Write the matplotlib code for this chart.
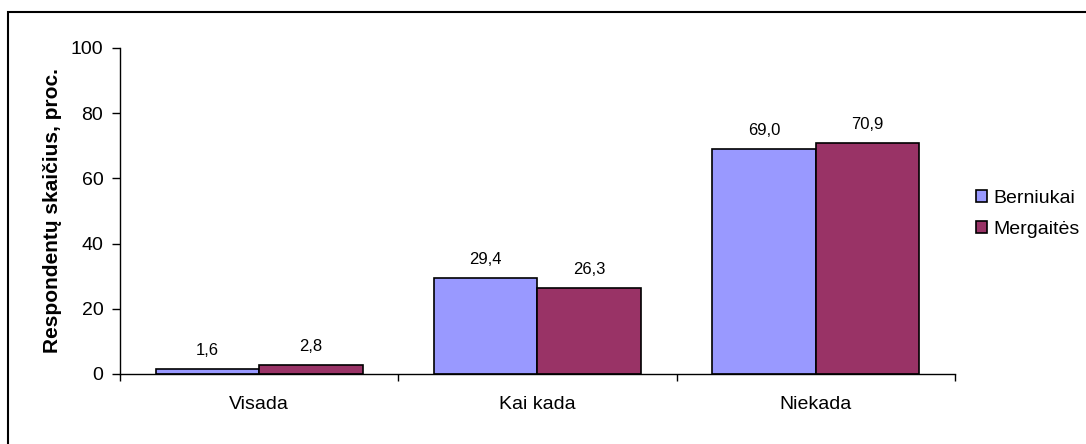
import numpy as np
import matplotlib
matplotlib.use("Agg")
import matplotlib.pyplot as plt
from matplotlib.patches import Rectangle

plt.rcParams['font.family'] = ['Liberation Sans', 'DejaVu Sans']

'''
Data:
'''
categories = ['Visada', 'Kai kada', 'Niekada']
berniukai = [1.6, 29.4, 69.0]
mergaites = [2.8, 26.3, 70.9]
series_names = ['Berniukai', 'Mergaitės']
colors = ['#9999FF', '#993366']

'''
Plot:
'''
fig = plt.figure(figsize=(10.86, 4.44), dpi=100)
# chart area border, runs off the right and bottom edges
fig.patches.append(Rectangle((8 / 1086, -0.1), 1.2, 1 - 12 / 444 + 0.1,
                             transform=fig.transFigure, fill=False,
                             edgecolor='black', linewidth=1.5))

ax = fig.add_axes([120 / 1086, 1 - 374 / 444, 835 / 1086, 326 / 444])

x = np.arange(len(categories))
w = 0.372
for vals, off, name, col in [(berniukai, -w / 2, series_names[0], colors[0]),
                             (mergaites, w / 2, series_names[1], colors[1])]:
    bars = ax.bar(x + off, vals, w, color=col, edgecolor='black',
                  linewidth=1.2, label=name)
    for b, v in zip(bars, vals):
        ax.annotate(f'{v:.1f}'.replace('.', ','),
                    (b.get_x() + b.get_width() / 2, v),
                    xytext=(0, 10), textcoords='offset points',
                    ha='center', va='baseline', fontsize=12)

ax.set_xlim(-0.5, len(categories) - 0.5)
ax.set_ylim(0, 100)
ax.set_yticks(range(0, 101, 20))
ax.tick_params(axis='y', labelsize=14, direction='out', length=6, width=1,
               pad=6)

# category names centred, tick marks between the groups
ax.set_xticks(x)
ax.set_xticklabels(categories, fontsize=14)
ax.tick_params(axis='x', which='major', length=0, pad=16)
ax.set_xticks(np.arange(-0.5, len(categories)), minor=True)
ax.tick_params(axis='x', which='minor', direction='out', length=5, width=1)

for s in ['top', 'right']:
    ax.spines[s].set_visible(False)
for s in ['left', 'bottom']:
    ax.spines[s].set_linewidth(1)

ax.set_ylabel('Respondentų skaičius, proc.', fontsize=15, fontweight='bold',
              labelpad=6)

ax.legend(loc='center left', bbox_to_anchor=(976 / 1086, 1 - 214 / 444),
          bbox_transform=fig.transFigure, frameon=False, fontsize=14,
          handlelength=0.55, handleheight=0.55, handletextpad=0.36,
          labelspacing=0.7, borderaxespad=0, borderpad=0)

fig.savefig('out.png', dpi=100)
